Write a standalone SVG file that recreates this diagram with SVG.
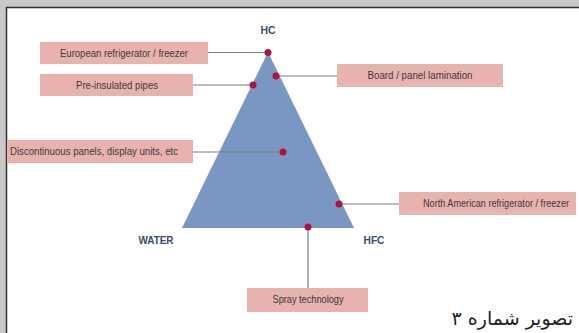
<svg xmlns="http://www.w3.org/2000/svg" width="579" height="333" viewBox="0 0 579 333">
  <style>
    .box { fill: #e8b3ae; }
    .lbl { font-family: "Liberation Sans", Arial, sans-serif; font-size: 10px; fill: #3a3a3a; text-anchor: middle; }
    .corner { font-family: "Liberation Sans", Arial, sans-serif; font-size: 11px; font-weight: bold; fill: #3d4873; text-anchor: middle; }
    .dot { fill: #b3123a; }
    .lead { stroke: #7d7d7d; stroke-width: 1.2; fill: none; }
  </style>

  <!-- page frame -->
  <rect x="0" y="0" width="579" height="333" fill="#c9c9c9"/>
  <rect x="6" y="7" width="573" height="326" fill="#ffffff"/>
  <path d="M6.5 333 V7.5 H579" stroke="#333333" stroke-width="1.5" fill="none"/>

  <!-- blowing agent triangle -->
  <g id="triangle">
    <polygon points="268,52 182,228 354,228" fill="#7a97c3"/>
  </g>

  <!-- corner labels -->
  <g id="corner-hc"><text class="corner" x="268" y="34" textLength="15" lengthAdjust="spacingAndGlyphs">HC</text></g>
  <g id="corner-water"><text class="corner" x="156" y="244" textLength="35" lengthAdjust="spacingAndGlyphs">WATER</text></g>
  <g id="corner-hfc"><text class="corner" x="374" y="244" textLength="21" lengthAdjust="spacingAndGlyphs">HFC</text></g>

  <!-- leader lines -->
  <g id="connectors">
    <line class="lead" x1="208" y1="52.5" x2="268" y2="52.5"/>
    <line class="lead" x1="193" y1="85" x2="253" y2="85"/>
    <line class="lead" x1="276" y1="76" x2="337" y2="76"/>
    <line class="lead" x1="193" y1="152" x2="283" y2="152"/>
    <line class="lead" x1="339" y1="204" x2="399" y2="204"/>
    <line class="lead" x1="308" y1="227" x2="308" y2="288"/>
  </g>

  <!-- application labels -->
  <g id="european">
    <rect class="box" x="40" y="42" width="168" height="22"/>
    <text class="lbl" x="124" y="56.5" textLength="128" lengthAdjust="spacingAndGlyphs">European refrigerator / freezer</text>
    <circle class="dot" cx="268" cy="52.5" r="3.5"/>
  </g>
  <g id="pre-insulated">
    <rect class="box" x="40" y="74" width="153" height="22"/>
    <text class="lbl" x="117" y="88.5" textLength="82" lengthAdjust="spacingAndGlyphs">Pre-insulated pipes</text>
    <circle class="dot" cx="253" cy="85" r="3.5"/>
  </g>
  <g id="board">
    <rect class="box" x="337" y="64" width="166" height="23"/>
    <text class="lbl" x="420" y="79" textLength="105" lengthAdjust="spacingAndGlyphs">Board / panel lamination</text>
    <circle class="dot" cx="276" cy="76" r="3.5"/>
  </g>
  <g id="discontinuous">
    <rect class="box" x="7" y="140" width="186" height="23"/>
    <text class="lbl" x="94" y="155" textLength="168" lengthAdjust="spacingAndGlyphs">Discontinuous panels, display units, etc</text>
    <circle class="dot" cx="283" cy="152" r="3.5"/>
  </g>
  <g id="north-american">
    <rect class="box" x="399" y="192" width="177" height="23"/>
    <text class="lbl" x="496" y="207" font-size="9" textLength="146" lengthAdjust="spacingAndGlyphs">North American refrigerator / freezer</text>
    <circle class="dot" cx="339" cy="204" r="3.5"/>
  </g>
  <g id="spray">
    <rect class="box" x="247" y="288" width="121" height="24"/>
    <text class="lbl" x="308" y="303" textLength="71" lengthAdjust="spacingAndGlyphs">Spray technology</text>
    <circle class="dot" cx="308" cy="227" r="3.5"/>
  </g>

  <!-- figure caption -->
  <text x="573" y="325" direction="rtl" text-anchor="start" font-family="'DejaVu Sans', 'Noto Sans', sans-serif" font-size="19" fill="#222222">تصویر شماره ۳</text>
</svg>
